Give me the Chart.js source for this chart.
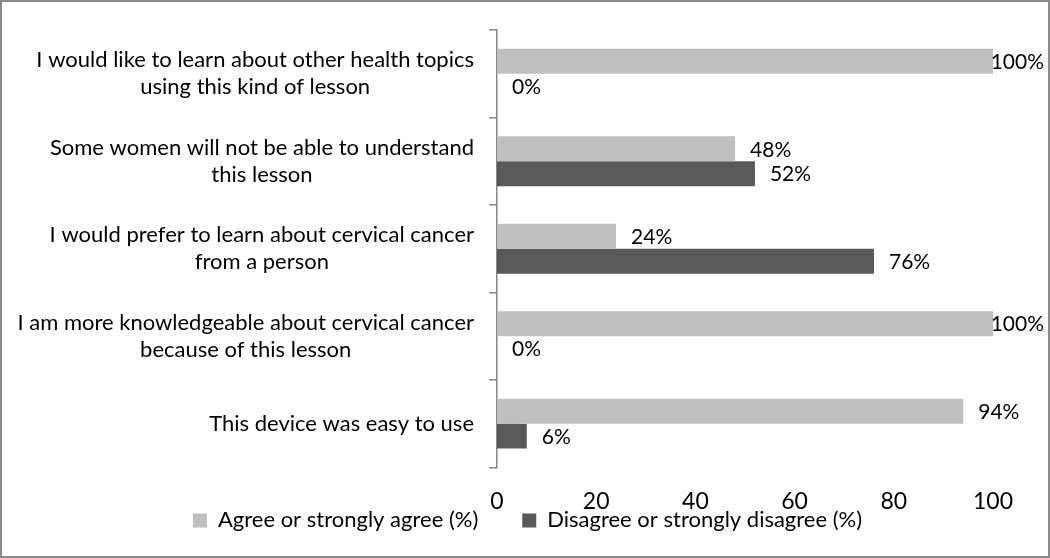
<!DOCTYPE html>
<html lang="en">
<head>
    <meta charset="UTF-8">
    <script src="https://cdn.jsdelivr.net/npm/chart.js"></script>
    <style>
        body { margin: 0; padding: 0; background: #fff; }
        .chart-container {
            position: relative;
            box-sizing: border-box;
            width: 1050px;
            height: 558px;
            border: 2px solid #8a8a8a;
        }
    </style>
</head>
<body>

    <div class="chart-container">
        <canvas id="myChart"></canvas>
    </div>

    <script>
        // --- DATA ---
        const categories = [
            ['I would like to learn about other health topics', 'using this kind of lesson'],
            ['Some women will not be able to understand', 'this lesson'],
            ['I would prefer to learn about cervical cancer', 'from a person'],
            ['I am more knowledgeable about cervical cancer', 'because of this lesson'],
            ['This device was easy to use']
        ];
        const agreeValues = [100, 48, 24, 100, 94];
        const disagreeValues = [0, 52, 76, 0, 6];
        const seriesNames = ['Agree or strongly agree (%)', 'Disagree or strongly disagree (%)'];
        const xTicks = [0, 20, 40, 60, 80, 100];

        const FONT = 'Lato, "Open Sans", sans-serif';

        // --- HELPER: category labels, each block right-aligned, lines centred within it ---
        const categoryLabels = {
            id: 'categoryLabels',
            afterDraw(chart) {
                const ctx = chart.ctx;
                const yScale = chart.scales.y;
                const rightEdge = 472; // canvas coords
                const lineHeight = 27;
                ctx.save();
                ctx.font = '22px ' + FONT;
                ctx.fillStyle = '#000000';
                ctx.textAlign = 'center';
                ctx.textBaseline = 'middle';
                categories.forEach((lines, i) => {
                    const cy = yScale.getPixelForValue(i);
                    const widest = Math.max(...lines.map(l => ctx.measureText(l).width));
                    const cx = rightEdge - widest / 2;
                    const startY = cy - (lines.length - 1) * lineHeight / 2;
                    lines.forEach((l, j) => ctx.fillText(l, cx, startY + j * lineHeight));
                });
                ctx.restore();
            }
        };

        // --- HELPER: value labels just past each bar end ---
        const valueLabels = {
            id: 'valueLabels',
            afterDatasetsDraw(chart) {
                const ctx = chart.ctx;
                ctx.save();
                ctx.font = '21px ' + FONT;
                ctx.fillStyle = '#000000';
                ctx.textAlign = 'left';
                ctx.textBaseline = 'middle';
                chart.data.datasets.forEach((ds, di) => {
                    chart.getDatasetMeta(di).data.forEach((bar, i) => {
                        const text = ds.data[i] + '%';
                        const w = ctx.measureText(text).width;
                        let x = bar.x + 15;
                        if (x + w > chart.width - 4) x = chart.width - 4 - w;
                        ctx.fillText(text, x, bar.y + 1);
                    });
                });
                ctx.restore();
            }
        };

        // --- HELPER: pull the legend up under the tick labels, centred on the whole canvas ---
        const legendShift = {
            id: 'legendShift',
            afterLayout(chart) {
                const lg = chart.legend;
                if (!lg) return;
                const dy = lg.top - (chart.chartArea.bottom - 2);
                lg.top -= dy;
                lg.bottom -= dy;
                const dx = 30;
                lg.left += dx;
                lg.right += dx;
            }
        };

        const ctx = document.getElementById('myChart').getContext('2d');

        new Chart(ctx, {
            type: 'bar',
            data: {
                labels: categories.map(c => c.join(' ')),
                datasets: [
                    {
                        label: seriesNames[0],
                        data: agreeValues,
                        backgroundColor: '#bfbfbf',
                        barPercentage: 1.0,
                        categoryPercentage: 0.57
                    },
                    {
                        label: seriesNames[1],
                        data: disagreeValues,
                        backgroundColor: '#595959',
                        barPercentage: 1.0,
                        categoryPercentage: 0.57
                    }
                ]
            },
            options: {
                responsive: true,
                maintainAspectRatio: false,
                animation: false,
                indexAxis: 'y',
                layout: {
                    padding: { left: 0, right: 55, top: 28, bottom: -47 }
                },
                scales: {
                    x: {
                        min: 0,
                        max: 100,
                        afterBuildTicks: (scale) => {
                            scale.ticks = xTicks.map(v => ({ value: v }));
                        },
                        grid: { display: false },
                        border: { display: false },
                        ticks: {
                            color: '#000000',
                            padding: 12,
                            maxRotation: 0,
                            font: { size: 23, family: FONT }
                        }
                    },
                    y: {
                        afterFit: (scale) => { scale.width = 495; },
                        grid: {
                            offset: true,
                            drawOnChartArea: false,
                            tickLength: 8,
                            color: '#868686',
                            lineWidth: 1.5
                        },
                        border: { display: true, color: '#868686', width: 1.5 },
                        ticks: { display: false }
                    }
                },
                plugins: {
                    legend: {
                        position: 'bottom',
                        labels: {
                            color: '#000000',
                            font: { size: 22, family: FONT },
                            boxWidth: 14,
                            boxHeight: 14,
                            padding: 44
                        }
                    },
                    tooltip: { enabled: true }
                }
            },
            plugins: [categoryLabels, valueLabels, legendShift]
        });
    </script>
</body>
</html>
